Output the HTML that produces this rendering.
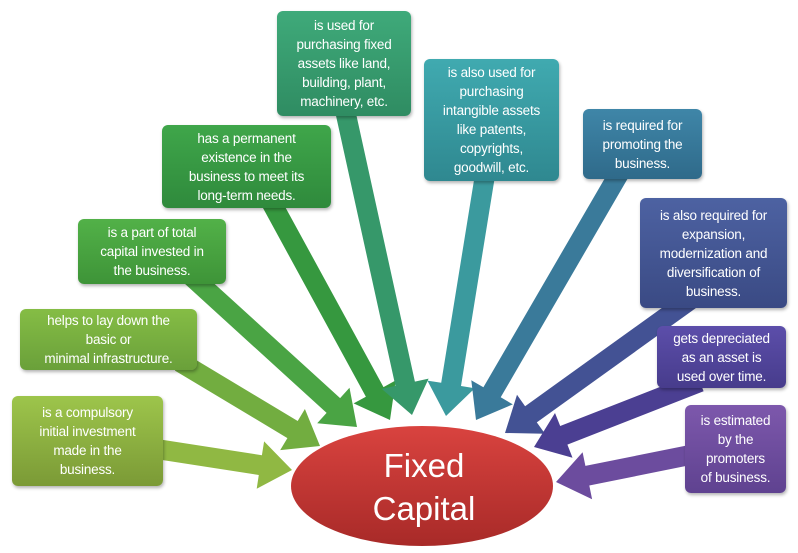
<!DOCTYPE html>
<html><head><meta charset="utf-8"><style>
body{margin:0;width:798px;height:553px;background:#fff;position:relative;overflow:hidden;font-family:"Liberation Sans",sans-serif}
.b{position:absolute;color:#fff;text-align:center;font-size:13.5px;line-height:19px;border-radius:6px;box-shadow:1px 2px 3px rgba(0,0,0,.3);display:flex;align-items:center;justify-content:center;box-sizing:border-box;padding:0;white-space:nowrap;letter-spacing:-.2px}
svg{position:absolute;left:0;top:0}
</style></head><body>
<svg id="s" width="798" height="553">
<defs><linearGradient id="eg" x1="0" y1="0" x2="0" y2="1"><stop offset="0" stop-color="#d9433f"/><stop offset="1" stop-color="#a82a28"/></linearGradient></defs>
<g id="ar"></g>
<ellipse cx="422" cy="486" rx="131" ry="60" fill="url(#eg)"/>
<text x="424" y="477" fill="#fff" font-size="33" text-anchor="middle" font-family="Liberation Sans,sans-serif">Fixed</text>
<text x="424" y="520" fill="#fff" font-size="33" text-anchor="middle" font-family="Liberation Sans,sans-serif">Capital</text>
</svg>
<div class="b" style="left:12px;top:396px;width:151px;height:90px;background:linear-gradient(#9dc54b,#7b9a36)">is a compulsory<br>initial investment<br>made in the<br>business.</div>
<div class="b" style="left:20px;top:309px;width:177px;height:61px;background:linear-gradient(#85bd45,#6aa03a)">helps to lay down the<br>basic or<br>minimal infrastructure.</div>
<div class="b" style="left:78px;top:219px;width:148px;height:65px;background:linear-gradient(#52b148,#3e9438)">is a part of total<br>capital invested in<br>the business.</div>
<div class="b" style="left:162px;top:125px;width:169px;height:83px;background:linear-gradient(#3fa64a,#2f8a3c)">has a permanent<br>existence in the<br>business to meet its<br>long-term needs.</div>
<div class="b" style="left:277px;top:11px;width:134px;height:105px;background:linear-gradient(#3faa7a,#2f8c62)">is used for<br>purchasing fixed<br>assets like land,<br>building, plant,<br>machinery, etc.</div>
<div class="b" style="left:424px;top:59px;width:135px;height:122px;background:linear-gradient(#40aab0,#2f8890)">is also used for<br>purchasing<br>intangible assets<br>like patents,<br>copyrights,<br>goodwill, etc.</div>
<div class="b" style="left:583px;top:109px;width:119px;height:70px;background:linear-gradient(#3f86a8,#2f6a8a)">is required for<br>promoting the<br>business.</div>
<div class="b" style="left:640px;top:198px;width:147px;height:110px;background:linear-gradient(#4d62a2,#3a4a84)">is also required for<br>expansion,<br>modernization and<br>diversification of<br>business.</div>
<div class="b" style="left:657px;top:326px;width:129px;height:62px;background:linear-gradient(#5c4eaa,#473c8c)">gets depreciated<br>as an asset is<br>used over time.</div>
<div class="b" style="left:685px;top:405px;width:101px;height:88px;background:linear-gradient(#7d58ac,#5f4290)">is estimated<br>by the<br>promoters<br>of business.</div>
<script>
var A=[[150,448,292,470,"#90b843"],[180,362,320,446,"#72ad40"],[190,275,357,427,"#4aa444"],[270,200,390,420,"#36983f"],[345,110,412,415,"#36986a"],[485,175,446,416,"#3b9a9e"],[620,172,476,420,"#3a7a9a"],[690,300,505,433,"#435294"],[700,382,534,447,"#4b3f92"],[690,455,556,482,"#6c4c9e"]];
var g=document.getElementById("ar"),h="";
A.forEach(function(a){var dx=a[2]-a[0],dy=a[3]-a[1],L=Math.hypot(dx,dy),ux=dx/L,uy=dy/L,px=-uy,py=ux,w=10,hw=24,hl=32;
var bx=a[2]-ux*hl,by=a[3]-uy*hl;
function p(x,y){return x.toFixed(1)+","+y.toFixed(1)}
var pts=[p(a[0]+px*w,a[1]+py*w),p(bx+px*w,by+py*w),p(bx+px*hw,by+py*hw),p(a[2],a[3]),p(bx-px*hw,by-py*hw),p(bx-px*w,by-py*w),p(a[0]-px*w,a[1]-py*w)];
h+='<polygon points="'+pts.join(" ")+'" fill="'+a[4]+'"/>';});
g.innerHTML=h;
</script>
</body></html>
